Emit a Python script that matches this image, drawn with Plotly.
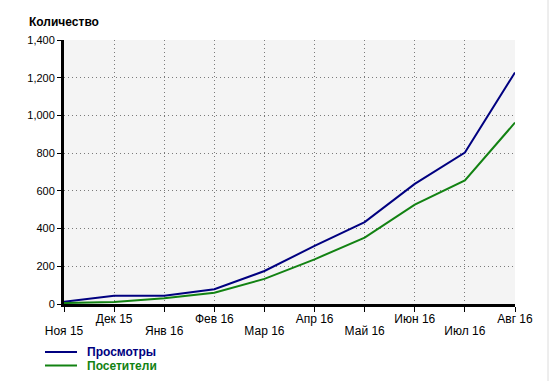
import plotly.graph_objects as go

months = ["Ноя 15", "Дек 15", "Янв 16", "Фев 16", "Мар 16", "Апр 16",
          "Май 16", "Июн 16", "Июл 16", "Авг 16"]
views = [12, 44, 44, 78, 175, 308, 434, 637, 803, 1228]
visitors = [5, 10, 30, 60, 133, 237, 352, 527, 655, 962]
series_names = ["Просмотры", "Посетители"]
colors = ["#000080", "#128212"]
y_ticks = [0, 200, 400, 600, 800, 1000, 1200, 1400]

FONT = "Liberation Sans, Arial, sans-serif"
W, H = 549, 381
L, R, T, B = 64, 34, 40, 77
PW, PH = W - L - R, H - T - B

idx = list(range(len(months)))
lower_vals = [i for i in idx if i % 2 == 0]

fig = go.Figure()
for name, vals, col in zip(series_names, [views, visitors], colors):
    fig.add_trace(go.Scatter(x=idx, y=vals, mode="lines", name=name,
                             line=dict(color=col, width=2), showlegend=False,
                             cliponaxis=False))
# invisible trace to activate the second x axis (lower label row)
fig.add_trace(go.Scatter(x=idx, y=views, xaxis="x2", mode="lines",
                         line=dict(width=0), opacity=0, showlegend=False,
                         hoverinfo="skip"))

grid = dict(showgrid=True, gridcolor="#7a7a7a", griddash="1px,3px", gridwidth=1)

fig.update_layout(
    width=W, height=H,
    margin=dict(l=L, r=R, t=T, b=B, pad=0),
    paper_bgcolor="white",
    plot_bgcolor="#f4f4f4",
    font=dict(family=FONT, size=11, color="black"),
    xaxis=dict(
        range=[0, len(months) - 1],
        tickmode="array", tickvals=idx,
        ticktext=[months[i] if i % 2 == 1 else "" for i in idx],
        ticks="outside", ticklen=5, tickwidth=1, tickcolor="black",
        ticklabelstandoff=-3,
        showline=True, linecolor="black", linewidth=3,
        zeroline=False, tickfont=dict(size=12), fixedrange=True, **grid,
    ),
    xaxis2=dict(
        range=[0, len(months) - 1], overlaying="x", side="bottom",
        anchor="y",
        tickmode="array", tickvals=lower_vals,
        ticktext=[months[i] for i in lower_vals],
        ticks="outside", ticklen=19, tickwidth=1,
        tickcolor="rgba(0,0,0,0)", ticklabelstandoff=-3,
        showline=False, showgrid=False,
        zeroline=False, tickfont=dict(size=12), fixedrange=True,
    ),
    yaxis=dict(
        range=[0, 1400],
        tickmode="array", tickvals=y_ticks,
        ticktext=[f"{v:,}" for v in y_ticks],
        ticks="outside", ticklen=4, tickwidth=1, tickcolor="black",
        showline=True, linecolor="black", linewidth=3,
        zeroline=False, tickfont=dict(size=11), fixedrange=True, **grid,
    ),
)

fig.add_annotation(text="<b>Количество</b>", x=(27 - L) / PW, y=1 + (T - 22) / PH,
                   xref="paper", yref="paper", xanchor="left", yanchor="middle",
                   showarrow=False, font=dict(size=12, family=FONT))

# faint frame line at the right edge of the picture
fig.add_shape(type="line", xref="paper", yref="paper",
              x0=(548 - L) / PW, x1=(548 - L) / PW,
              y0=1 + T / PH, y1=-B / PH,
              line=dict(color="#dcdcdc", width=1))

# legend drawn manually
for i, (name, col) in enumerate(zip(series_names, colors)):
    yc = 352 + i * 13.5
    yp = 1 - (yc - T) / PH
    fig.add_shape(type="line", xref="paper", yref="paper",
                  x0=(45 - L) / PW, x1=(77 - L) / PW,
                  y0=yp, y1=yp, line=dict(color=col, width=2))
    fig.add_annotation(text=f"<b>{name}</b>", xref="paper", yref="paper",
                       x=(85 - L) / PW, y=yp, xanchor="left",
                       yanchor="middle", showarrow=False,
                       font=dict(size=12, color=col, family=FONT))

fig.write_html("out.html")
